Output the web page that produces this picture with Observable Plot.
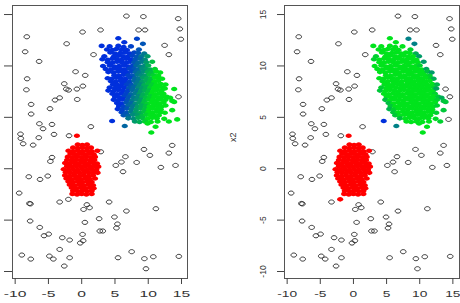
<!DOCTYPE html>
<html>
<head>
<meta charset="utf-8">
<script src="https://cdn.jsdelivr.net/npm/d3@7"></script>
<script src="https://cdn.jsdelivr.net/npm/@observablehq/plot@0.6"></script>
<style>
  html, body { margin: 0; padding: 0; background: #fff; }
  #fig { position: relative; width: 460px; height: 303px; overflow: hidden; }
  #fig svg { position: absolute; top: 0; }
</style>
</head>
<body>
<div id="fig"></div>
<script>
// Axis ticks
const xTicks = [-10, -5, 0, 5, 10, 15];
const yTicks = [-10, -5, 0, 5, 10, 15];
const yLabel = "x2";

// Background noise points [x, y]
const noise = [
  [6.72,14.85],[9.27,14.8],[14.5,14.6],[14.75,13.6],[14.9,12.6],[-8.25,12.84],[0.13,13.3],[2.83,13.5],
  [8.56,13.5],[9.51,13.5],[-8.5,11.38],[-2.26,12.16],[1.78,11.1],[12.46,12.0],[13.1,11.1],[-6.4,10.44],
  [-0.92,9.44],[0.53,9.08],[-8.2,8.75],[-2.62,8.27],[-2.32,7.75],[-1.96,7.65],[-0.72,7.75],[0.18,8.04],
  [-8.31,7.68],[-3.31,6.9],[-4.01,6.68],[-0.67,6.74],[-7.6,6.26],[-4.76,5.84],[-7.6,5.32],[14.55,7.0],
  [-6.36,4.38],[-5.81,3.89],[-4.46,4.31],[1.38,4.09],[-9.2,3.37],[-9.15,2.95],[-6.45,3.02],[-4.16,3.34],
  [-1.9,3.21],[-8.8,2.43],[-7.3,2.3],[9.36,1.88],[13.6,2.27],[-4.46,1.1],[-4.71,0.71],[2.87,1.65],
  [6.57,1.17],[5.12,0.32],[5.97,0.65],[6.21,-0.29],[8.26,0.61],[10.25,1.3],[13.1,1.52],[11.9,0.13],
  [14.1,0.32],[-7.95,-0.78],[-6.26,-1.04],[-5.1,-0.71],[-9.4,-2.37],[-7.85,-3.38],[-7.7,-3.42],[-3.31,-3.24],
  [0.78,-3.5],[0.28,-3.96],[1.18,-3.79],[4.12,-3.24],[6.72,-4.12],[11.15,-3.89],[-7.75,-5.09],[-6.3,-5.71],
  [-5.66,-6.52],[-4.96,-6.36],[-2.92,-6.71],[-1.81,-6.94],[0.48,-5.22],[0.13,-6.39],[0.22,-7.0],[-0.22,-7.23],
  [2.62,-4.86],[2.72,-6.06],[3.17,-6.06],[4.92,-4.7],[5.37,-5.38],[5.22,-5.77],[-3.31,-7.85],[-9.0,-8.4],
  [-7.65,-8.79],[-4.86,-8.5],[-4.26,-8.79],[-2.62,-9.47],[-1.81,-8.66],[7.51,-8.07],[5.46,-8.66],[9.42,-8.75],
  [10.76,-8.56],[9.66,-9.73],[14.6,-8.53]
];

// Point that is noise in the first solution and joins the red group in the second
const redSecondOnly = [[-2.0,-2.98]];

// Red group [x, y]
const redGroup = [
  [-0.72,3.21],
  [-0.6,2.35],[0.1,2.3],[0.8,2.35],
  [-1.3,2.05],[-0.6,2.0],[0.1,2.05],[0.8,2.0],[1.4,2.05],
  [-2.0,1.75],[-1.3,1.7],[-0.6,1.75],[0.1,1.7],[0.8,1.75],[1.5,1.7],[2.35,1.75],
  [-1.7,1.45],[-1.0,1.4],[-0.3,1.45],[0.4,1.4],[1.1,1.45],[1.8,1.4],
  [-2.1,1.15],[-1.4,1.1],[-0.7,1.15],[0.0,1.1],[0.7,1.15],[1.4,1.1],[2.0,1.15],
  [-2.2,0.85],[-1.5,0.8],[-0.8,0.85],[-0.1,0.8],[0.6,0.85],[1.3,0.8],[1.9,0.85],
  [-2.5,0.55],[-1.8,0.5],[-1.1,0.55],[-0.4,0.5],[0.3,0.55],[1.0,0.5],[1.7,0.55],[2.3,0.5],
  [-2.2,0.25],[-1.5,0.2],[-0.8,0.25],[-0.1,0.2],[0.6,0.25],[1.3,0.2],[2.0,0.25],[2.5,0.2],
  [-2.7,-0.05],[-2.0,-0.1],[-1.3,-0.05],[-0.6,-0.1],[0.1,-0.05],[0.8,-0.1],[1.5,-0.05],[2.2,-0.1],
  [-2.4,-0.35],[-1.7,-0.4],[-1.0,-0.35],[-0.3,-0.4],[0.4,-0.35],[1.1,-0.4],[1.8,-0.35],[2.4,-0.4],
  [-2.5,-0.65],[-1.8,-0.7],[-1.1,-0.65],[-0.4,-0.7],[0.3,-0.65],[1.0,-0.7],[1.7,-0.65],
  [-2.3,-0.95],[-1.6,-1.0],[-0.9,-0.95],[-0.2,-1.0],[0.5,-0.95],[1.2,-1.0],[2.0,-0.95],
  [-2.0,-1.25],[-1.3,-1.3],[-0.6,-1.25],[0.1,-1.3],[0.8,-1.25],[1.5,-1.3],
  [-1.8,-1.55],[-1.1,-1.6],[-0.4,-1.55],[0.3,-1.6],[1.0,-1.55],[1.7,-1.6],
  [-1.5,-1.85],[-0.8,-1.9],[-0.1,-1.85],[0.6,-1.9],[1.3,-1.85],[1.8,-1.9],
  [-1.3,-2.15],[-0.6,-2.2],[0.1,-2.15],[0.8,-2.2],[1.5,-2.15],
  [-1.4,-2.45],[-0.7,-2.5],[0.0,-2.45],[0.7,-2.5],[1.5,-2.45]
];

// Upper-right group [x, y, green share (left), green share (right); null = unassigned]
const upperGroup = [
  [5.5,12.7,0,1],[8.3,12.65,0.1,0.45],
  [6.4,12.3,0,1],[9.2,12.15,0.2,0.45],
  [3.0,11.95,0,1],[4.2,11.9,0,1],[5.5,11.95,0,1],[6.3,11.85,0,1],[7.4,11.9,0.1,1],
  [3.8,11.6,0,1],[4.6,11.55,0,1],[5.2,11.65,0,1],[6.0,11.6,0,1],[6.8,11.55,0,1],[8.6,11.6,0.2,0.9],
  [4.3,11.3,0,1],[5.0,11.2,0,1],[5.8,11.25,0,1],[6.5,11.3,0,1],[7.2,11.2,0,1],[7.9,11.3,0.1,1],[8.5,11.25,0.2,1],[9.4,11.2,0.4,0.7],
  [3.4,10.95,0,0.9],[4.8,10.9,0,1],[5.5,11.0,0,1],[6.2,10.95,0,1],[6.9,10.9,0,1],[7.6,11.0,0.1,1],[8.3,10.9,0.2,1],[9.0,10.95,0.4,1],[9.9,10.95,0.6,0.6],
  [3.1,10.65,0,0.9],[3.9,10.6,0,1],[4.6,10.7,0,1],[5.3,10.65,0,1],[6.0,10.6,0,1],[6.7,10.7,0,1],[7.4,10.6,0,1],[8.1,10.65,0.2,1],[8.8,10.7,0.3,1],[9.5,10.6,0.5,1],
  [3.9,10.35,0,1],[4.6,10.3,0,1],[5.3,10.4,0,1],[6.0,10.35,0,1],[6.7,10.3,0,1],[7.3,10.4,0,1],[7.9,10.35,0.2,1],[8.5,10.3,0.3,1],[9.1,10.4,0.4,1],[9.7,10.35,0.6,1],[10.6,10.4,0.8,0.6],
  [3.2,10.0,0,1],[4.2,10.05,0,1],[4.9,9.95,0,1],[5.6,10.0,0,1],[6.3,10.05,0,1],[7.0,9.95,0,1],[7.6,10.0,0.1,1],[8.2,10.05,0.3,1],[8.8,9.95,0.4,1],[9.4,10.0,0.5,1],[10.0,10.05,0.7,0.9],
  [3.6,9.7,0,1],[4.4,9.65,0,1],[5.1,9.75,0,1],[5.8,9.7,0,1],[6.5,9.65,0,1],[7.2,9.75,0.1,1],[7.9,9.7,0.2,1],[8.5,9.65,0.3,1],[9.1,9.75,0.5,1],[9.7,9.7,0.6,1],[10.3,9.65,0.7,1],[11.0,9.7,0.9,0.65],
  [4.0,9.4,0,1],[4.8,9.35,0,1],[5.5,9.45,0,1],[6.2,9.4,0,1],[6.9,9.35,0,1],[7.5,9.45,0.1,1],[8.1,9.4,0.3,1],[8.7,9.35,0.4,1],[9.3,9.45,0.5,1],[9.9,9.4,0.7,1],[10.5,9.35,0.8,1],[11.2,9.45,1,0.8],[11.8,9.35,1,0.6],
  [4.9,9.1,0,1],[5.6,9.05,0,1],[6.3,9.15,0,1],[7.0,9.1,0.1,1],[7.7,9.05,0.2,1],[8.4,9.15,0.4,1],[9.0,9.1,0.5,1],[9.6,9.05,0.6,1],[10.2,9.15,0.8,1],[10.8,9.1,0.9,1],[11.5,9.05,1,0.9],
  [3.9,8.8,0,1],[4.5,8.75,0,1],[5.2,8.85,0,1],[5.9,8.8,0,1],[6.6,8.75,0,1],[7.3,8.85,0.1,1],[8.0,8.8,0.3,1],[8.6,8.75,0.4,1],[9.2,8.85,0.6,1],[9.8,8.8,0.7,1],[10.4,8.75,0.8,1],[11.0,8.85,1,1],[11.7,8.8,1,0.9],[12.1,8.75,1,0.7],
  [4.4,8.5,0,1],[5.1,8.45,0,1],[5.8,8.55,0,1],[6.5,8.5,0,1],[7.2,8.45,0.1,1],[7.9,8.55,0.3,1],[8.5,8.5,0.4,1],[9.1,8.45,0.6,1],[9.7,8.55,0.7,1],[10.3,8.5,0.8,1],[10.9,8.45,1,1],[11.5,8.55,1,1],
  [4.7,8.2,0,1],[5.4,8.15,0,1],[6.1,8.25,0,1],[6.8,8.2,0.1,1],[7.5,8.15,0.2,1],[8.2,8.25,0.4,1],[8.8,8.2,0.5,1],[9.4,8.15,0.7,1],[10.0,8.25,0.8,1],[10.6,8.2,0.9,1],[11.2,8.15,1,1],[11.9,8.25,1,1],[12.6,8.2,1,0.75],
  [4.2,7.9,0,0.9],[5.0,7.85,0,1],[5.7,7.95,0,1],[6.4,7.9,0,1],[7.1,7.85,0.2,1],[7.8,7.95,0.3,1],[8.5,7.9,0.5,1],[9.1,7.85,0.6,1],[9.7,7.95,0.7,1],[10.3,7.9,0.9,1],[10.9,7.85,1,1],[11.5,7.95,1,1],[12.2,7.9,1,0.9],[13.9,7.75,1,null],
  [4.0,7.6,0,0.85],[4.8,7.55,0,1],[5.5,7.65,0,1],[6.2,7.6,0,1],[6.9,7.55,0.1,1],[7.6,7.65,0.3,1],[8.3,7.6,0.4,1],[8.9,7.55,0.6,1],[9.5,7.65,0.7,1],[10.1,7.6,0.8,1],[10.7,7.55,1,1],[11.3,7.65,1,1],[12.0,7.6,1,1],[12.5,7.8,1,0.65],
  [4.6,7.3,0,1],[5.3,7.25,0,1],[6.0,7.35,0,1],[6.7,7.3,0.1,1],[7.4,7.25,0.3,1],[8.1,7.35,0.4,1],[8.7,7.3,0.6,1],[9.3,7.25,0.7,1],[9.9,7.35,0.8,1],[10.5,7.3,1,1],[11.1,7.25,1,1],[11.7,7.35,1,1],[12.3,7.3,1,0.9],
  [5.0,7.0,0,1],[5.7,6.95,0,1],[6.4,7.05,0.1,1],[7.1,7.0,0.2,1],[7.8,6.95,0.4,1],[8.5,7.05,0.5,1],[9.1,7.0,0.7,1],[9.7,6.95,0.8,1],[10.3,7.05,0.9,1],[10.9,7.0,1,1],[11.5,6.95,1,1],[12.1,7.05,1,1],[12.8,7.0,1,0.85],[13.3,6.9,1,0.7],
  [4.8,6.7,0,0.8],[5.5,6.65,0,1],[6.2,6.75,0,1],[6.9,6.7,0.2,1],[7.6,6.65,0.4,1],[8.3,6.75,0.5,1],[8.9,6.7,0.6,1],[9.5,6.65,0.8,1],[10.1,6.75,0.9,1],[10.7,6.7,1,1],[11.3,6.65,1,1],[11.9,6.75,1,1],[12.6,6.7,1,0.9],[13.6,6.6,1,0.8],
  [5.3,6.4,0,0.8],[6.0,6.35,0,1],[6.7,6.45,0.2,1],[7.4,6.4,0.3,1],[8.1,6.35,0.5,1],[8.7,6.45,0.6,1],[9.3,6.4,0.8,1],[9.9,6.35,0.9,1],[10.5,6.45,1,1],[11.1,6.4,1,1],[11.7,6.35,1,1],[12.3,6.45,1,1],[13.9,6.5,1,0.85],
  [5.6,6.1,0,0.85],[6.3,6.05,0.1,1],[7.0,6.15,0.3,1],[7.7,6.1,0.4,1],[8.4,6.05,0.6,1],[9.0,6.15,0.7,1],[9.6,6.1,0.8,1],[10.2,6.05,1,1],[10.8,6.15,1,1],[11.4,6.1,1,1],[12.0,6.05,1,1],[12.6,6.15,1,0.9],
  [5.4,5.8,0,0.75],[6.1,5.75,0.1,0.9],[6.8,5.85,0.2,1],[7.5,5.8,0.4,1],[8.2,5.75,0.6,1],[8.9,5.85,0.7,1],[9.5,5.8,0.8,1],[10.1,5.75,1,1],[10.7,5.85,1,1],[11.3,5.8,1,1],[11.9,5.75,1,1],[13.6,5.7,1,0.85],
  [6.0,5.5,0.1,0.85],[6.7,5.45,0.2,1],[7.4,5.55,0.4,1],[8.1,5.5,0.6,1],[8.8,5.45,0.7,1],[9.4,5.55,0.8,1],[10.0,5.5,1,1],[10.6,5.45,1,1],[11.2,5.55,1,1],[11.8,5.5,1,1],[12.5,5.45,1,0.9],
  [6.3,5.2,0.2,0.85],[7.0,5.15,0.3,1],[7.7,5.25,0.5,1],[8.4,5.2,0.6,1],[9.1,5.15,0.8,1],[9.7,5.25,0.9,1],[10.3,5.2,1,1],[10.9,5.15,1,1],[11.6,5.2,1,1],
  [7.0,4.9,0.4,0.8],[7.8,4.85,0.5,1],[8.5,4.95,0.7,1],[9.2,4.9,0.8,1],[9.9,4.85,1,1],[10.6,4.95,1,1],[11.3,4.9,1,1],[12.4,4.85,1,0.95],
  [4.57,4.64,0,0],[8.0,4.6,0.6,1],[8.7,4.55,0.7,1],[9.5,4.6,0.9,1],[10.4,4.55,1,1],[11.4,4.6,1,1],[13.1,4.6,1,0.9],[14.35,4.8,1,null],
  [6.47,4.15,0.3,0.45],[9.9,4.4,1,1],[11.1,4.09,1,1],
  [10.46,3.53,1,1]
];

const BLUE = "#0030dc", GREEN = "#00e31c";

// Ellipse marker: points are drawn slightly wider than tall
const ellipse = {
  draw(ctx, size) {
    const rx = Math.sqrt(size / Math.PI), ry = rx * 0.74, k = 0.5523;
    ctx.moveTo(rx, 0);
    ctx.bezierCurveTo(rx, k * ry, k * rx, ry, 0, ry);
    ctx.bezierCurveTo(-k * rx, ry, -rx, k * ry, -rx, 0);
    ctx.bezierCurveTo(-rx, -k * ry, -k * rx, -ry, 0, -ry);
    ctx.bezierCurveTo(k * rx, -ry, rx, -k * ry, rx, 0);
    ctx.closePath();
  }
};

function panel({shareIndex, second, width, marginLeft, marginRight, xDomain}) {
  const members = upperGroup.filter(d => d[shareIndex] !== null);
  const unassigned = upperGroup.filter(d => d[shareIndex] === null).map(d => [d[0], d[1]]);
  const open = second ? noise.concat(unassigned) : noise.concat(redSecondOnly);
  const red = second ? redGroup.concat(redSecondOnly) : redGroup;
  const yAxis = second
    ? Plot.axisY(yTicks, {tickSize: 7, tickRotate: -90, tickPadding: 12, tickFormat: d => String(d),
        fontSize: 8.5, stroke: "#444", fill: "#333", label: null})
    : Plot.axisY(yTicks, {tickSize: 8, stroke: "#444", fill: "none", label: null});
  return Plot.plot({
    width, height: 303,
    marginTop: 5, marginBottom: 25, marginLeft, marginRight,
    x: {domain: xDomain},
    y: {domain: [-10.68, 15.88]},
    color: {type: "linear", domain: [0, 1], range: [BLUE, GREEN], interpolate: "rgb"},
    style: {fontFamily: "'Liberation Sans', Arial, sans-serif", background: "white", color: "#333"},
    marks: [
      Plot.frame({stroke: "#555"}),
      Plot.axisX(xTicks, {tickSize: 6, tickPadding: 6, tickFormat: d => String(d),
        fontSize: 9.5, stroke: "#444", fill: "#333", label: null}),
      yAxis,
      second ? Plot.text([yLabel], {text: d => d, frameAnchor: "left", dx: -51, rotate: -90,
        fontSize: 9, fill: "#333"}) : null,
      Plot.dot(open, {x: d => d[0], y: d => d[1], symbol: ellipse, r: 2.8,
        fill: "none", stroke: "#222", strokeWidth: 0.9}),
      Plot.dot(red, {x: d => d[0], y: d => d[1], symbol: ellipse, r: 3.1, fill: "#ff0000"}),
      Plot.dot(members, {x: d => d[0], y: d => d[1], symbol: ellipse, r: 3.1, fill: d => d[shareIndex]})
    ]
  });
}

// Horizontally widen the x tick labels around their anchor
function widenTickLabels(svg, k) {
  svg.querySelectorAll('g[aria-label="x-axis tick label"] text').forEach(t => {
    const tr = t.getAttribute("transform");
    if (tr) t.setAttribute("transform", `${tr} scale(${k},1)`);
    else {
      const x = +t.getAttribute("x") || 0, y = +t.getAttribute("y") || 0;
      t.setAttribute("transform", `translate(${x},${y}) scale(${k},1) translate(${-x},${-y})`);
    }
  });
  return svg;
}

const fig = document.getElementById("fig");
const left = widenTickLabels(panel({shareIndex: 2, second: false, width: 200, marginLeft: 12, marginRight: 13,
  xDomain: [-10.4, 15.9]}), 1.65);
left.style.left = "0px";
const right = widenTickLabels(panel({shareIndex: 3, second: true, width: 238, marginLeft: 62, marginRight: 1,
  xDomain: [-10.4, 16.0]}), 1.45);
right.style.left = "222px";
fig.append(left, right);
</script>
</body>
</html>
